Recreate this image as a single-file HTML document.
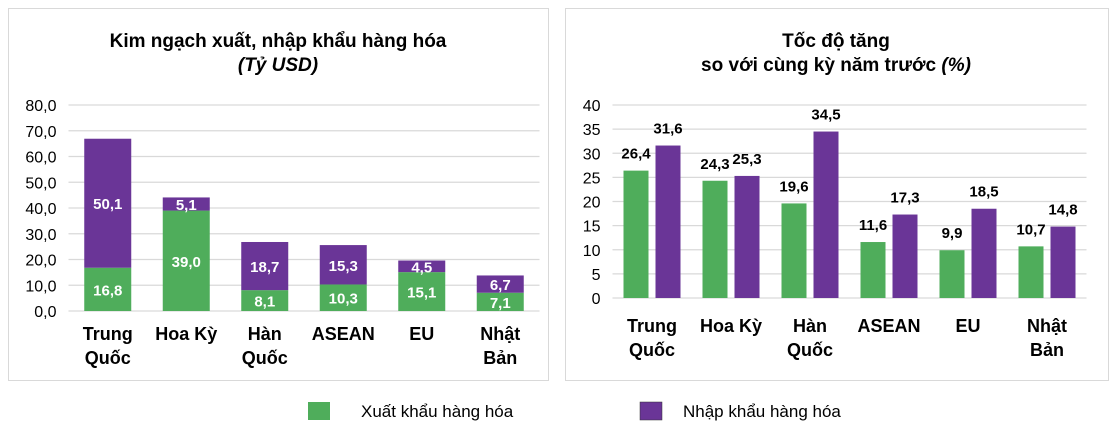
<!DOCTYPE html>
<html><head><meta charset="utf-8">
<style>
body{margin:0;background:#fff;width:1120px;height:432px;overflow:hidden;font-family:"Liberation Sans",Arial,sans-serif;}
svg text{font-family:"Liberation Sans",Arial,sans-serif;}
</style></head>
<body>
<svg width="1120" height="432" xmlns="http://www.w3.org/2000/svg" id="root">
<rect x="8.5" y="8.5" width="540" height="372" fill="#fff" stroke="#d9d9d9"/>
<rect x="565.5" y="8.5" width="543" height="372" fill="#fff" stroke="#d9d9d9"/>
<text x="278" y="47" text-anchor="middle" font-size="19" font-weight="bold">Kim ngạch xuất, nhập khẩu hàng hóa</text>
<text x="278" y="71" text-anchor="middle" font-size="19" font-weight="bold" font-style="italic">(Tỷ USD)</text>
<text x="836" y="47" text-anchor="middle" font-size="19" font-weight="bold">Tốc độ tăng</text>
<text x="836" y="71" text-anchor="middle" font-size="19" font-weight="bold">so với cùng kỳ năm trước <tspan font-style="italic">(%)</tspan></text>
<g id="left"></g>
<g id="right"></g>
<rect x="308" y="402" width="22" height="18" fill="#4fad5b"/>
<text x="361" y="417" font-size="17">Xuất khẩu hàng hóa</text>
<rect x="640" y="402" width="22" height="18" fill="#6a3597" stroke="#333" stroke-width="0.5"/>
<text x="683" y="417" font-size="17">Nhập khẩu hàng hóa</text>
</svg>
<script>
const categories=[["Trung","Quốc"],["Hoa Kỳ"],["Hàn","Quốc"],["ASEAN"],["EU"],["Nhật","Bản"]];
const exportValues=[16.8,39.0,8.1,10.3,15.1,7.1];
const importValues=[50.1,5.1,18.7,15.3,4.5,6.7];
const exportGrowth=[26.4,24.3,19.6,11.6,9.9,10.7];
const importGrowth=[31.6,25.3,34.5,17.3,18.5,14.8];
const leftTicks=[0,10,20,30,40,50,60,70,80];
const rightTicks=[0,5,10,15,20,25,30,35,40];
const GREEN="#4fad5b",PURPLE="#6a3597",NS="http://www.w3.org/2000/svg";
function mk(parent,tag,attrs,txt){const e=document.createElementNS(NS,tag);for(const k in attrs)e.setAttribute(k,attrs[k]);if(txt!==undefined)e.textContent=txt;parent.appendChild(e);return e;}
const fmt=v=>v.toFixed(1).replace('.',',');
// Left chart
(function(){
const g=document.getElementById('left');
const x0=68.5,step=78.5,y0=311,yTop=105,max=80;
const y=v=>y0-(v/max)*(y0-yTop);
leftTicks.forEach(t=>{
 const l=mk(g,'line',{x1:x0,x2:x0+step*6,y1:y(t),y2:y(t),stroke:'#d9d9d9','stroke-width':1.3});
 
 
 const tx=mk(g,'text',{x:x0-12,y:y(t)+6,'text-anchor':'end','font-size':16},fmt(t));
 
 
});
categories.forEach((c,i)=>{
 const cx=x0+step*(i+0.5),w=47;
 const e=exportValues[i],m=importValues[i];
 const b1=mk(g,'rect',{x:cx-w/2,y:y(e),width:w,height:y0-y(e),fill:GREEN});
 
 
 const b2=mk(g,'rect',{x:cx-w/2,y:y(e+m),width:w,height:y(e)-y(e+m),fill:PURPLE});
 
 
 const t1=mk(g,'text',{x:cx,y:(y(e)+y0)/2+6,'text-anchor':'middle','font-size':15,'font-weight':'bold',fill:'#fff'},fmt(e));
 
 
 const t2=mk(g,'text',{x:cx,y:(y(e)+y(e+m))/2+6,'text-anchor':'middle','font-size':15,'font-weight':'bold',fill:'#fff'},fmt(m));
 
 
 c.forEach((ln,j)=>{
  const t=mk(g,'text',{x:cx,y:340+j*24,'text-anchor':'middle','font-size':18,'font-weight':'bold'},ln);
  
  
 });
});
})();
// Right chart
(function(){
const g=document.getElementById('right');
const x0=612.5,step=79,y0=298,yTop=105,max=40;
const y=v=>y0-(v/max)*(y0-yTop);
rightTicks.forEach(t=>{
 const l=mk(g,'line',{x1:x0,x2:x0+step*6,y1:y(t),y2:y(t),stroke:'#d9d9d9','stroke-width':1.3});
 
 
 const tx=mk(g,'text',{x:x0-12,y:y(t)+6,'text-anchor':'end','font-size':16},String(t));
 
 
});
categories.forEach((c,i)=>{
 const cx=x0+step*(i+0.5),w=25,gap=7;
 [[exportGrowth[i],GREEN,cx-gap/2-w,'right-export-bar','right-export-value'],[importGrowth[i],PURPLE,cx+gap/2,'right-import-bar','right-import-value']].forEach(([v,col,bx,n1,n2])=>{
  const b=mk(g,'rect',{x:bx,y:y(v),width:w,height:y0-y(v),fill:col});
  
  
  const t=mk(g,'text',{x:bx+w/2,y:y(v)-12,'text-anchor':'middle','font-size':15,'font-weight':'bold'},fmt(v));
  
  
 });
 c.forEach((ln,j)=>{
  const t=mk(g,'text',{x:cx,y:332+j*24,'text-anchor':'middle','font-size':18,'font-weight':'bold'},ln);
  
  
 });
});
})();
</script>
</body></html>
